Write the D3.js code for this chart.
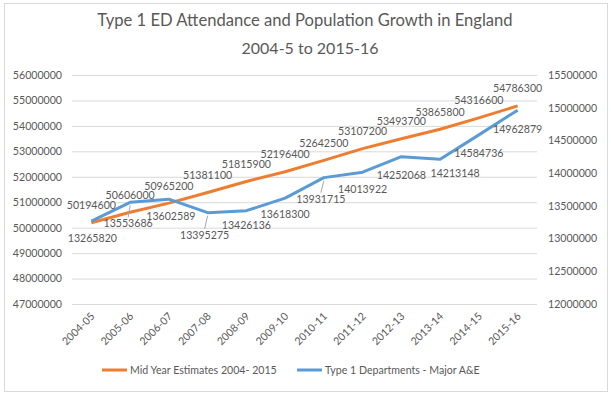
<!doctype html>
<html>
<head>
    <meta charset="utf8">
    <style>
        body { margin: 0; background: #fff; }
        text { font-family: Lato, "Liberation Sans", sans-serif; fill: #595959; }
        .grid line { stroke: #d9d9d9; }
        .axis path, .axis line { display: none; }
</style>
    <script src="https://d3js.org/d3.v7.min.js"></script>
</head>
<body>
<svg width="611" height="396"></svg>
<script>

    var years = ["2004-05", "2005-06", "2006-07", "2007-08", "2008-09", "2009-10",
                 "2010-11", "2011-12", "2012-13", "2013-14", "2014-15", "2015-16"];

    var population = [50194600, 50606000, 50965200, 51381100, 51815900, 52196400,
                      52642500, 53107200, 53493700, 53865800, 54316600, 54786300];

    var attendance = [13265820, 13553686, 13602589, 13395275, 13426136, 13618300,
                      13931715, 14013922, 14252068, 14213148, 14584736, 14962879];

    var leftTicks = [47000000, 48000000, 49000000, 50000000, 51000000,
                     52000000, 53000000, 54000000, 55000000, 56000000];
    var rightTicks = [12000000, 12500000, 13000000, 13500000,
                      14000000, 14500000, 15000000, 15500000];

    var seriesNames = ["Mid Year Estimates 2004- 2015", "Type 1 Departments - Major A&E"];

    // nudges for the blue data labels (dx, dy below the point, leader line?)
    var blueNudge = [[1, 21, 0], [-2, 25, 1], [2, 21, 0], [-3, 26, 1], [0, 18, 0], [0, 20, 0],
                     [-3, 25, 1], [0, 21, 0], [0, 22, 0], [15, 18, 0], [0, 22, 0], [0, 23, 0]];

    var orange = "#ed7d31", blue = "#5b9bd5";

    var svg = d3.select("svg");

    svg.append("rect")
       .attr("x", 4.5).attr("y", 3.5)
       .attr("width", 603).attr("height", 388)
       .attr("fill", "#fff")
       .attr("stroke", "#d9d9d9");

    svg.append("text")
       .attr("x", 305).attr("y", 26)
       .attr("text-anchor", "middle")
       .attr("font-size", "16.6px")
       .text("Type 1 ED Attendance and Population Growth in England");
    svg.append("text")
       .attr("x", 310).attr("y", 54)
       .attr("text-anchor", "middle")
       .attr("font-size", "16px")
       .text("2004-5 to 2015-16");

    var x = d3.scaleBand().domain(years).range([72, 537]),
        yL = d3.scaleLinear().domain([47000000, 56000000]).range([304, 75]),
        yR = d3.scaleLinear().domain([12000000, 15500000]).range([304, 75]);

    function cx(d) { return x(d) + x.bandwidth() / 2; }

    // gridlines
    svg.append("g")
       .attr("class", "grid")
       .attr("transform", "translate(72,0)")
       .call(d3.axisLeft(yL).tickValues(leftTicks).tickSize(-465).tickFormat(""))
       .select(".domain").remove();

    // left axis
    svg.append("g")
       .attr("class", "axis")
       .attr("transform", "translate(65,0)")
       .call(d3.axisLeft(yL).tickValues(leftTicks).tickSize(0).tickFormat(d3.format("d")))
       .selectAll("text")
       .attr("font-size", "10.6px")
       .attr("font-family", null);

    // right axis
    svg.append("g")
       .attr("class", "axis")
       .attr("transform", "translate(545,0)")
       .call(d3.axisRight(yR).tickValues(rightTicks).tickSize(0).tickFormat(d3.format("d")))
       .selectAll("text")
       .attr("font-size", "10.6px")
       .attr("font-family", null);

    // category axis
    svg.append("g")
       .attr("class", "axis")
       .attr("transform", "translate(0,304)")
       .call(d3.axisBottom(x).tickSize(0).tickFormat(function(d) { return d; }))
       .selectAll("text")
       .attr("font-size", "10.6px")
       .attr("font-family", null)
       .attr("text-anchor", "end")
       .attr("dy", null)
       .attr("y", 0)
       .attr("transform", "translate(4,13) rotate(-45)");

    var lineL = d3.line()
        .x(function(d, i) { return cx(years[i]); })
        .y(function(d) { return yL(d); });
    var lineR = d3.line()
        .x(function(d, i) { return cx(years[i]); })
        .y(function(d) { return yR(d); });

    svg.append("path")
       .datum(population)
       .attr("fill", "none")
       .attr("stroke", orange)
       .attr("stroke-width", 3)
       .attr("stroke-linejoin", "round")
       .attr("d", lineL);

    svg.append("path")
       .datum(attendance)
       .attr("fill", "none")
       .attr("stroke", blue)
       .attr("stroke-width", 3)
       .attr("stroke-linejoin", "round")
       .attr("d", lineR);

    // orange labels above points
    svg.selectAll(".lblL")
       .data(population)
       .enter().append("text")
       .attr("class", "lblL")
       .attr("x", function(d, i) { return cx(years[i]); })
       .attr("y", function(d) { return yL(d) - 13.5; })
       .attr("text-anchor", "middle")
       .attr("font-size", "10.6px")
       .text(function(d) { return d; });

    // leader lines for the moved blue labels
    svg.selectAll(".leader")
       .data(attendance.filter(function(d, i) { return blueNudge[i][2]; }))
       .enter().append("line")
       .attr("class", "leader")
       .attr("stroke", "#a6a6a6")
       .attr("x1", function(d) { var i = attendance.indexOf(d); return cx(years[i]); })
       .attr("y1", function(d) { return yR(d) + 3; })
       .attr("x2", function(d) { var i = attendance.indexOf(d); return cx(years[i]) + blueNudge[i][0]; })
       .attr("y2", function(d) { var i = attendance.indexOf(d); return yR(d) + blueNudge[i][1] - 10; });

    svg.selectAll(".lblR")
       .data(attendance)
       .enter().append("text")
       .attr("class", "lblR")
       .attr("x", function(d, i) { return cx(years[i]) + blueNudge[i][0]; })
       .attr("y", function(d, i) { return yR(d) + blueNudge[i][1]; })
       .attr("text-anchor", "middle")
       .attr("font-size", "10.6px")
       .text(function(d) { return d; });

    // legend
    var legend = svg.append("g").attr("class", "legend");
    var legX = [102, 297];
    [orange, blue].forEach(function(c, i) {
        legend.append("line")
              .attr("x1", legX[i]).attr("x2", legX[i] + 25)
              .attr("y1", 370).attr("y2", 370)
              .attr("stroke", c)
              .attr("stroke-width", 3);
        legend.append("text")
              .attr("x", legX[i] + 28).attr("y", 374)
              .attr("font-size", "10.6px")
              .text(seriesNames[i]);
    });

</script>
</body>
</html>
